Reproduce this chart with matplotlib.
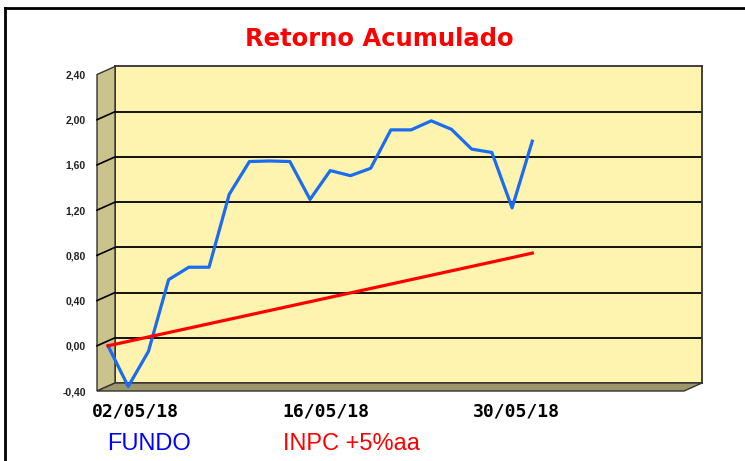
import matplotlib.pyplot as plt
import matplotlib.patches as mpatches
from matplotlib.lines import Line2D
from matplotlib.transforms import IdentityTransform
import numpy as np

# --- data ---
fundo = [0.00, -0.36, -0.05, 0.585, 0.695, 0.695, 1.34, 1.63, 1.635, 1.63, 1.295,
         1.55, 1.505, 1.57, 1.91, 1.91, 1.99, 1.915, 1.74, 1.71, 1.22, 1.81]
inpc = [0.000, 0.039, 0.078, 0.117, 0.156, 0.195, 0.234, 0.273, 0.312, 0.351, 0.390,
        0.429, 0.468, 0.507, 0.546, 0.585, 0.624, 0.663, 0.702, 0.741, 0.780, 0.820]
y_ticks = [-0.40, 0.00, 0.40, 0.80, 1.20, 1.60, 2.00, 2.40]
date_labels = ['02/05/18', '16/05/18', '30/05/18']
date_tick_pos = [1.35, 10.8, 20.2]

W, H = 745, 461
fig = plt.figure(figsize=(W / 100, H / 100), dpi=100)
fig.patch.set_facecolor('white')


def px_box(left, top, right, bottom):
    return [left / W, 1 - bottom / H, (right - left) / W, (bottom - top) / H]


# 3D depth offset of the front plane (pixels)
dx, dy = -18, 8
back = (115, 66.5, 702, 383)
xlim = (-0.545, 28.51)
ylim = (-0.4, 2.4)

# back wall
ax_back = fig.add_axes(px_box(*back), zorder=0)
ax_back.set_facecolor('#fff3b0')
ax_back.set_xlim(*xlim)
ax_back.set_ylim(*ylim)
for v in y_ticks[1:-1]:
    ax_back.axhline(v, color='black', lw=1.3)
ax_back.set_xticks([])
ax_back.set_yticks([])
for s in ax_back.spines.values():
    s.set_color('#333333')
    s.set_linewidth(1.3)

# front plane (data lines + labels)
ax = fig.add_axes(px_box(back[0] + dx, back[1] + dy, back[2] + dx, back[3] + dy), zorder=2)
ax.set_facecolor('none')
ax.set_xlim(*xlim)
ax.set_ylim(*ylim)
for s in ax.spines.values():
    s.set_visible(False)

ax.set_yticks(y_ticks)
ax.set_yticklabels([f'{v:.2f}'.replace('.', ',') for v in y_ticks],
                   fontsize=7.5, color='#222222', family='Liberation Sans', fontweight='bold')
ax.tick_params(axis='y', length=0, pad=8)
ax.set_xticks(date_tick_pos)
ax.set_xticklabels(date_labels, fontsize=13, fontweight='bold', family='DejaVu Sans Mono')
ax.tick_params(axis='x', length=0, pad=8)

x = np.arange(len(fundo))
ax.plot(x, fundo, color='#1a6cf0', lw=2.3, clip_on=False, solid_joinstyle='round')
ax.plot(x, inpc, color='#ff0000', lw=2.3, clip_on=False, solid_joinstyle='round')

fig.canvas.draw()

# side wall and floor
def fpx(x, y):
    return (x / W, 1 - y / H)

side = mpatches.Polygon([fpx(back[0] + dx, back[1] + dy), fpx(back[0], back[1]),
                         fpx(back[0], back[3]), fpx(back[0] + dx, back[3] + dy)],
                        closed=True, transform=fig.transFigure, facecolor='#cbc38c',
                        edgecolor='#333333', lw=1.0, zorder=1)
floor = mpatches.Polygon([fpx(back[0] + dx, back[3] + dy), fpx(back[0], back[3]),
                          fpx(back[2], back[3]), fpx(back[2] + dx, back[3] + dy)],
                         closed=True, transform=fig.transFigure, facecolor='#9d986b',
                         edgecolor='#333333', lw=1.0, zorder=1)
fig.add_artist(side)
fig.add_artist(floor)

# grid lines across the side wall
for v in y_ticks[1:-1]:
    x0, y0 = ax.transData.transform((xlim[0], v))
    x1, y1 = ax_back.transData.transform((xlim[0], v))
    fig.add_artist(Line2D([x0, x1], [y0, y1], transform=IdentityTransform(),
                          color='black', lw=1.2, zorder=1.5))

# title and legend texts
fig.text(379 / W, 1 - 38.5 / H, 'Retorno Acumulado', color='#ff0000', fontsize=17.5,
         fontweight='bold', family='DejaVu Sans', ha='center', va='center')
fig.text(149 / W, 1 - 444 / H, 'FUNDO', color='#0000ff', fontsize=17,
         family='Liberation Sans', ha='center', va='center')
fig.text(351 / W, 1 - 444 / H, 'INPC +5%aa', color='#ff0000', fontsize=17,
         family='Liberation Sans', ha='center', va='center')

# outer frame
fig.add_artist(Line2D([5 / W, 5 / W], [0, 1 - 8 / H], transform=fig.transFigure,
                      color='black', lw=2))
fig.add_artist(Line2D([5 / W, 1], [1 - 8 / H, 1 - 8 / H], transform=fig.transFigure,
                      color='black', lw=2))

fig.savefig('out.png', dpi=100)
